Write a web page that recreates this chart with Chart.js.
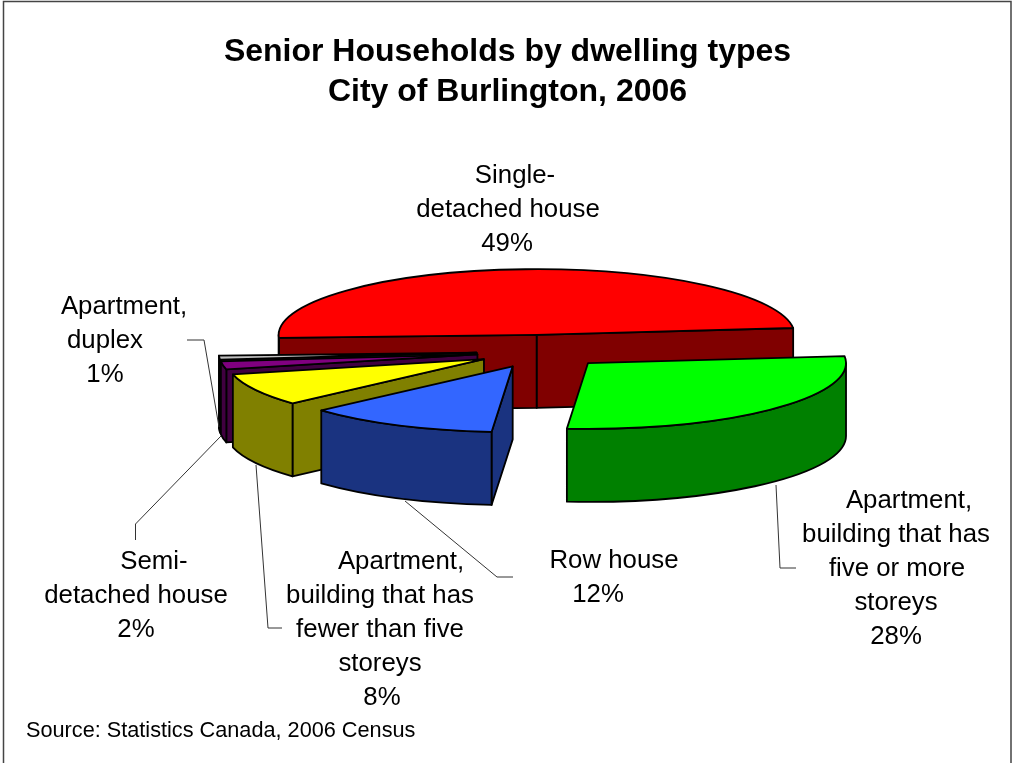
<!DOCTYPE html>
<html>
<head>
<meta charset="utf-8">
<title>Senior Households by dwelling types</title>
<script src="https://cdn.jsdelivr.net/npm/chart.js@4"></script>
<style>
  html, body { margin: 0; padding: 0; background: #fff; }
  canvas { display: block; }
</style>
</head>
<body>
<canvas id="chart" width="1012" height="763"></canvas>
<script>
const titleLines = ['Senior Households by dwelling types', 'City of Burlington, 2006'];
const sourceNote = 'Source: Statistics Canada, 2006 Census';
const categories = [
  'Single-detached house',
  'Apartment, building that has five or more storeys',
  'Row house',
  'Apartment, building that has fewer than five storeys',
  'Semi-detached house',
  'Apartment, duplex'
];
const shares = [49, 28, 12, 8, 2, 1];
const topColors = ['#FF0000', '#00FF00', '#3366FF', '#FFFF00', '#800080', '#C0C0C0'];
const wallColors = ['#800000', '#008000', '#1A3380', '#808000', '#400040', '#606060'];

// Wrapped label text for each category; the share is appended when drawn.
const labelLines = [
  ['Single-', 'detached house'],
  ['Apartment,', 'building that has', 'five or more', 'storeys'],
  ['Row house'],
  ['Apartment,', 'building that has', 'fewer than five', 'storeys'],
  ['Semi-', 'detached house'],
  ['Apartment,', 'duplex']
];

// Horizontal centre of every label line, and the baseline of its first line.
const labelCentres = [
  [515, 508, 507],
  [909, 896, 897, 896, 896],
  [614, 598],
  [401, 380, 380, 380, 382],
  [154, 136, 136],
  [124, 105, 105]
];
const labelTops = [183, 508, 568, 569, 569, 314];
const LABEL_STEP = 34;

// Thin leader lines between slices and their labels.
const leaders = [
  [[796, 568], [780, 568], [776, 485]],
  [[513, 577], [497, 577], [405, 501]],
  [[282, 628], [268, 628], [256, 465]],
  [[135.5, 540], [135.5, 524], [221, 436]],
  [[187, 340], [204, 340], [219, 427]]
];

const TILT = 0.255;
const DEPTH = 73;
const EXPLODE = 65;
const PIE_SHIFT_X = 34;

function slicePlacement(el) {
  const mid = (el.startAngle + el.endAngle) / 2;
  return {
    x: el.x + PIE_SHIFT_X + Math.cos(mid) * EXPLODE,
    y: el.y + Math.sin(mid) * EXPLODE * TILT,
    r: el.outerRadius
  };
}

function rimPoint(p, a, drop) {
  return [p.x + Math.cos(a) * p.r, p.y + Math.sin(a) * p.r * TILT + drop];
}

function paintPath(ctx, fill) {
  ctx.fillStyle = fill;
  ctx.fill();
  ctx.stroke();
}

function drawRadialWall(ctx, p, a, fill) {
  const rim = rimPoint(p, a, 0);
  ctx.beginPath();
  ctx.moveTo(p.x, p.y);
  ctx.lineTo(rim[0], rim[1]);
  ctx.lineTo(rim[0], rim[1] + DEPTH);
  ctx.lineTo(p.x, p.y + DEPTH);
  ctx.closePath();
  paintPath(ctx, fill);
}

function drawRimWall(ctx, p, a1, a2, fill) {
  ctx.beginPath();
  ctx.ellipse(p.x, p.y, p.r, p.r * TILT, 0, a1, a2);
  ctx.ellipse(p.x, p.y + DEPTH, p.r, p.r * TILT, 0, a2, a1, true);
  ctx.closePath();
  paintPath(ctx, fill);
}

// Extruded, tilted pie: the library's arc elements supply the angles and radius.
const tiltedPie = {
  id: 'tiltedPie',
  beforeDatasetsDraw(chart) {
    const ctx = chart.ctx;
    const elements = chart.getDatasetMeta(0).data;
    const order = elements.map((el, i) => i).sort((a, b) => {
      const mid = el => Math.sin((el.startAngle + el.endAngle) / 2);
      return mid(elements[a]) - mid(elements[b]);
    });
    ctx.save();
    ctx.strokeStyle = '#000';
    ctx.lineWidth = 1.8;
    ctx.lineJoin = 'round';
    order.forEach(i => {
      const el = elements[i];
      const p = slicePlacement(el);
      const s = el.startAngle, e = el.endAngle;
      // Radial faces that turn towards the viewer.
      if (Math.sin(e + Math.PI / 2) > 0) drawRadialWall(ctx, p, e, wallColors[i]);
      if (Math.sin(s - Math.PI / 2) > 0) drawRadialWall(ctx, p, s, wallColors[i]);
      // Curved outer face, only along the near half of the rim.
      [0, 2 * Math.PI].forEach(base => {
        const a1 = Math.max(s, base), a2 = Math.min(e, base + Math.PI);
        if (a2 > a1) drawRimWall(ctx, p, a1, a2, wallColors[i]);
      });
      // Top face.
      ctx.save();
      ctx.translate(p.x, p.y);
      ctx.scale(1, TILT);
      ctx.translate(-el.x, -el.y);
      el.draw(ctx);
      ctx.restore();
      ctx.beginPath();
      ctx.moveTo(p.x, p.y);
      ctx.ellipse(p.x, p.y, p.r, p.r * TILT, 0, s, e);
      ctx.closePath();
      ctx.stroke();
    });
    ctx.restore();
    return false;
  },
  afterDraw(chart) {
    const ctx = chart.ctx;
    ctx.save();
    // Frame: the sheet's lower edge runs off the page.
    ctx.strokeStyle = '#444';
    ctx.lineWidth = 1.5;
    ctx.beginPath();
    ctx.moveTo(3.5, 763);
    ctx.lineTo(3.5, 1.5);
    ctx.lineTo(1011, 1.5);
    ctx.lineTo(1011, 763);
    ctx.stroke();

    ctx.strokeStyle = '#333';
    ctx.lineWidth = 1;
    leaders.forEach(line => {
      ctx.beginPath();
      line.forEach((pt, i) => i ? ctx.lineTo(pt[0], pt[1]) : ctx.moveTo(pt[0], pt[1]));
      ctx.stroke();
    });

    ctx.fillStyle = '#000';
    ctx.textBaseline = 'alphabetic';
    ctx.textAlign = 'center';
    ctx.font = '25.8px "Liberation Sans", Arial, sans-serif';
    labelLines.forEach((lines, i) => {
      lines.concat(shares[i] + '%').forEach((text, j) => {
        ctx.fillText(text, labelCentres[i][j], labelTops[i] + j * LABEL_STEP);
      });
    });
    ctx.textAlign = 'left';
    ctx.font = '21.7px "Liberation Sans", Arial, sans-serif';
    ctx.fillText(sourceNote, 26, 737);
    ctx.restore();
  }
};

new Chart(document.getElementById('chart'), {
  type: 'pie',
  data: {
    labels: categories,
    datasets: [{
      data: shares,
      backgroundColor: topColors,
      borderWidth: 0
    }]
  },
  options: {
    responsive: false,
    animation: false,
    rotation: 267.5,
    radius: 258,
    layout: { padding: { left: 3, right: 0, top: 0, bottom: 172 } },
    plugins: {
      legend: { display: false },
      tooltip: { enabled: false },
      title: {
        display: true,
        text: titleLines,
        color: '#000',
        font: { family: '"Liberation Sans", Arial, sans-serif', size: 32, weight: 'bold', lineHeight: 1.25 },
        padding: { top: 32, bottom: 0 }
      }
    }
  },
  plugins: [tiltedPie]
});
</script>
</body>
</html>
